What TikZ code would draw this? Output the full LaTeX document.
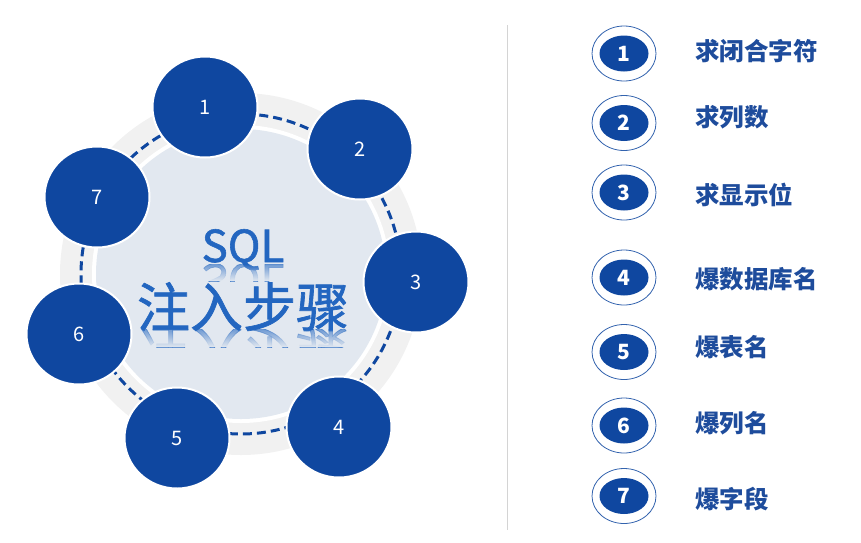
\documentclass[tikz,border=0pt]{standalone}
\usepackage{fontspec}
\setmainfont{Noto Sans CJK SC}
\newfontfamily\titlefont[FakeBold=1.3]{Noto Sans CJK SC}
\usetikzlibrary{shapes.geometric,fadings}
\definecolor{cblue}{HTML}{0F47A0}
\definecolor{ringgrey}{HTML}{F1F1F1}
\definecolor{innercol}{HTML}{E2E8F0}
\definecolor{labblue}{HTML}{1E4C9C}
\definecolor{sqlblue}{HTML}{2366C0}
\definecolor{sepgrey}{HTML}{D4D4D4}
\tikzfading[name=reflfade, top color=transparent!100, bottom color=transparent!0]
\begin{document}
\begin{tikzpicture}[x=1pt,y=-1pt,
  stepcirc/.style={ellipse, fill=cblue, draw=white, line width=2pt, inner sep=0pt,
    minimum width=105pt, minimum height=101pt, text=white, font=\fontsize{20}{20}\selectfont},
  listouter/.style={ellipse, draw=cblue!85, line width=0.8pt, fill=white, inner sep=0pt,
    minimum width=64pt, minimum height=55pt},
  listinner/.style={ellipse, fill=cblue, inner sep=0pt, minimum width=49pt, minimum height=36pt,
    text=white, font=\fontsize{21}{21}\selectfont\bfseries},
  listlabel/.style={anchor=base west, text=labblue, font=\fontsize{24.5}{24.5}\selectfont\bfseries, inner sep=0pt},
  bigtext/.style={anchor=base, text=sqlblue, inner sep=0pt}
]
\useasboundingbox (0,0) rectangle (861,542);
% central ring
\fill[ringgrey] (241,274) circle (181pt);
\fill[white] (241,274) circle (149pt);
\fill[innercol] (241,274) circle (145pt);
\draw[cblue, line width=3pt, dash pattern=on 9pt off 5pt] (241,274) circle (160pt);
% centre title
\node[bigtext, font=\titlefont\fontsize{44}{44}\selectfont] (sql) at (243,262) {SQL};
\node[bigtext, font=\titlefont\fontsize{53}{53}\selectfont] (title) at (243,327) {注入步骤};
\begin{scope}
  \clip (170,264) rectangle (320,281);
  \node[bigtext, font=\titlefont\fontsize{44}{44}\selectfont, yscale=-1, opacity=0.6] (sqlr) at (243,264) {SQL};
\end{scope}
\fill[innercol, path fading=reflfade] (170,264) rectangle (320,281);
\begin{scope}
  \clip (130,329) rectangle (360,347);
  \node[bigtext, font=\titlefont\fontsize{53}{53}\selectfont, yscale=-1, opacity=0.6] (titler) at (243,329) {注入步骤};
\end{scope}
\fill[innercol, path fading=reflfade] (130,329) rectangle (360,347);
% step circles
\node[stepcirc] (c1) at (205,107) {1};
\node[stepcirc] (c2) at (360,149) {2};
\node[stepcirc] (c3) at (416,282) {3};
\node[stepcirc] (c4) at (339,427) {4};
\node[stepcirc] (c5) at (177,438) {5};
\node[stepcirc] (c6) at (79,334) {6};
\node[stepcirc] (c7) at (97,197) {7};
% separator
\draw[sepgrey, line width=1pt] (507,25) -- (507,530);
% list
\foreach \n/\y/\ly/\t in {1/53.5/52/求闭合字符, 2/123/118/求列数, 3/192.5/196/求显示位, 4/277.5/280/爆数据库名, 5/352/348/爆表名, 6/425.5/424/爆列名, 7/496/500/爆字段}{
  \node[listouter] (o\n) at (624,\y) {};
  \node[listinner] (i\n) at (624,\y) {\n};
  \node[listlabel] (l\n) at (695,\ly+8.5) {\t};
}
\end{tikzpicture}
\end{document}
